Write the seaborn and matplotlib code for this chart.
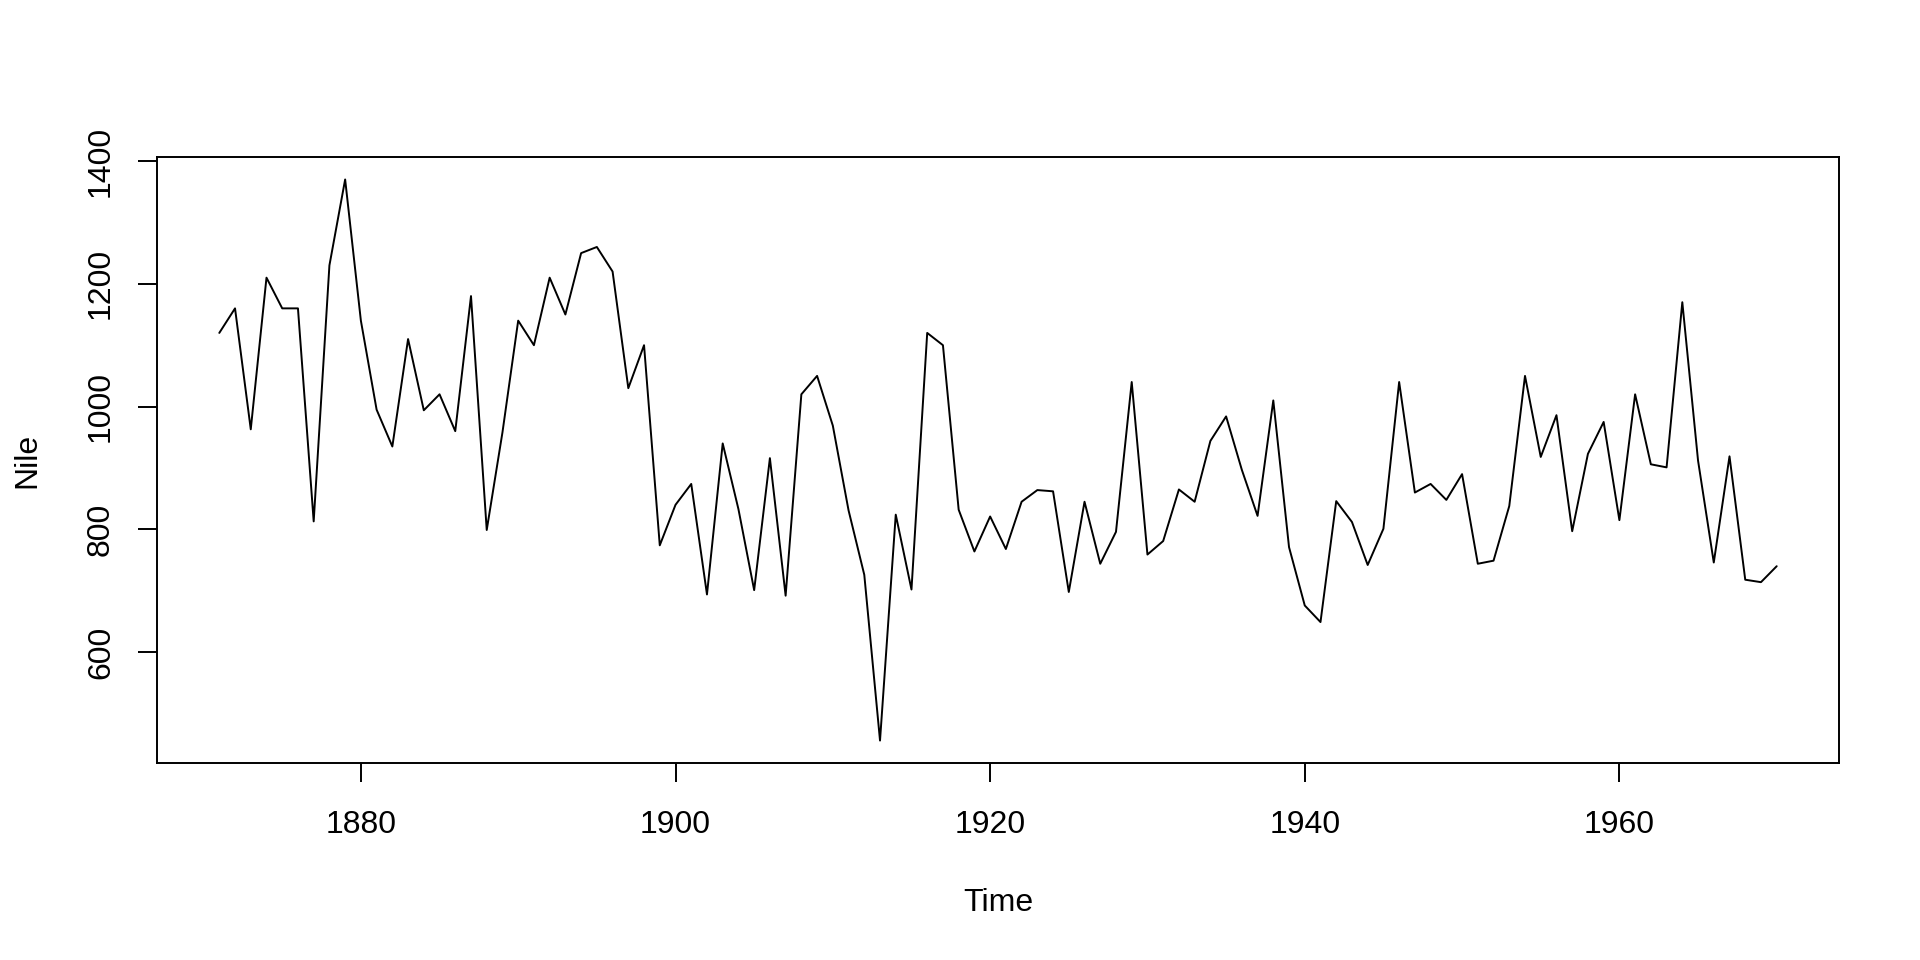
import matplotlib
matplotlib.use("Agg")
import matplotlib.pyplot as plt
import numpy as np
import pandas as pd
import seaborn as sns

# Annual Nile flow, 1871-1970
years = list(range(1871, 1971))
nile = [1120, 1160, 963, 1210, 1160, 1160, 813, 1230, 1370, 1140,
        995, 935, 1110, 994, 1020, 960, 1180, 799, 958, 1140,
        1100, 1210, 1150, 1250, 1260, 1220, 1030, 1100, 774, 840,
        874, 694, 940, 833, 701, 916, 692, 1020, 1050, 969,
        831, 726, 456, 824, 702, 1120, 1100, 832, 764, 821,
        768, 845, 864, 862, 698, 845, 744, 796, 1040, 759,
        781, 865, 845, 944, 984, 897, 822, 1010, 771, 676,
        649, 846, 812, 742, 801, 1040, 860, 874, 848, 890,
        744, 749, 838, 1050, 918, 986, 797, 923, 975, 815,
        1020, 906, 901, 1170, 912, 746, 919, 718, 714, 740]
x_ticks = [1880, 1900, 1920, 1940, 1960]
y_ticks = [600, 800, 1000, 1200, 1400]

df = pd.DataFrame({"Time": years, "Nile": nile})

sns.set_style("white")
plt.rcParams["font.family"] = ["Liberation Sans", "DejaVu Sans"]
plt.rcParams["text.color"] = "black"
plt.rcParams["axes.labelcolor"] = "black"

fig = plt.figure(figsize=(19.2, 9.6), dpi=100)
# box in pixels: left 157, right 1839, top 157, bottom 763
ax = fig.add_axes([157 / 1920, 1 - 763 / 960, (1839 - 157) / 1920, (763 - 157) / 960])
sns.lineplot(data=df, x="Time", y="Nile", color="black", linewidth=1.4, ax=ax)

# R style 4% padding on each side
pad_x = (max(years) - min(years)) * 0.04
pad_y = (max(nile) - min(nile)) * 0.04
ax.set_xlim(min(years) - pad_x, max(years) + pad_x)
ax.set_ylim(min(nile) - pad_y, max(nile) + pad_y)

ax.set_xticks(x_ticks)
ax.set_yticks(y_ticks)
ax.set_yticklabels([str(v) for v in y_ticks], rotation=90, va="center")
ax.tick_params(axis="both", direction="out", length=13.5, width=1.4,
               labelsize=23, colors="black")
ax.tick_params(axis="x", pad=20)
ax.tick_params(axis="y", pad=16)
ax.tick_params(axis="both", bottom=True, left=True)
for s in ax.spines.values():
    s.set_color("black")
    s.set_linewidth(1.4)

ax.set_xlabel("Time", fontsize=23)
ax.set_ylabel("Nile", fontsize=23)
ax.xaxis.set_label_coords(0.5, (763 - 911) / 606)
ax.xaxis.label.set_va("baseline")
ax.yaxis.set_label_coords((35 - 157) / 1682, 0.5)
ax.yaxis.label.set_rotation_mode("anchor")
ax.yaxis.label.set_va("baseline")
ax.yaxis.label.set_ha("center")

fig.savefig("out.png", dpi=100, facecolor="white")
